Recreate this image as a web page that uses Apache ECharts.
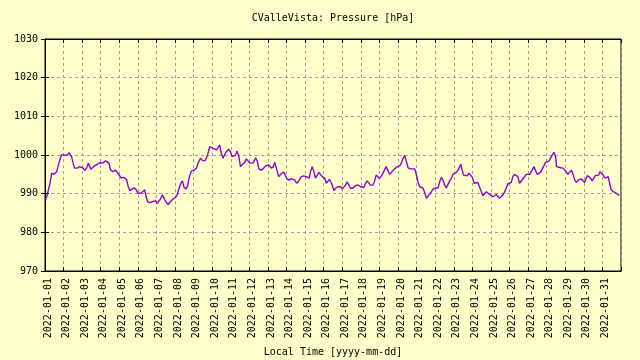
<!DOCTYPE html>
<html>
<head>
<meta charset="utf-8">
<script src="https://cdn.jsdelivr.net/npm/echarts@6/dist/echarts.min.js"></script>
<style>
html,body{margin:0;padding:0;background:#ffffcc;}
#chart{width:640px;height:360px;}
</style>
</head>
<body>
<div id="chart"></div>
<script>
// Time in days since 2022-01-01 00:00 (local time)
var timeDays = [
0.04,0.12,0.27,0.36,0.48,0.57,0.63,0.75,0.88,1.02,1.11,1.20,1.29,1.38,1.43,1.52,1.60,1.74,1.86,1.95,
2.06,2.13,2.24,2.33,2.40,2.47,2.56,2.67,2.81,2.96,3.10,3.17,3.26,3.35,3.44,3.53,3.65,3.80,3.85,3.98,
4.10,4.21,4.28,4.39,4.48,4.57,4.67,4.78,4.89,5.01,5.14,5.25,5.37,5.44,5.53,5.64,5.77,5.86,5.95,6.03,
6.13,6.20,6.32,6.39,6.50,6.63,6.75,6.89,7.02,7.11,7.22,7.31,7.40,7.47,7.58,7.67,7.75,7.88,8.02,8.15,
8.24,8.37,8.47,8.60,8.69,8.77,8.87,8.96,9.04,9.13,9.23,9.31,9.40,9.49,9.58,9.67,9.76,9.89,9.98,10.06,
10.16,10.25,10.33,10.42,10.52,10.62,10.71,10.84,10.92,11.02,11.19,11.34,11.43,11.51,11.64,11.77,11.88,11.97,12.05,12.18,
12.29,12.37,12.48,12.58,12.63,12.74,12.86,12.95,13.00,13.13,13.26,13.36,13.45,13.54,13.66,13.79,13.93,14.06,14.15,14.22,
14.29,14.38,14.47,14.56,14.65,14.74,14.83,14.92,15.05,15.14,15.24,15.31,15.42,15.55,15.64,15.76,15.91,16.00,16.08,16.17,
16.26,16.35,16.44,16.57,16.71,16.86,16.98,17.07,17.16,17.25,17.34,17.43,17.52,17.64,17.73,17.82,17.91,18.00,18.11,18.23,
18.36,18.45,18.54,18.65,18.74,18.86,18.97,19.09,19.18,19.28,19.36,19.45,19.54,19.67,19.77,19.90,19.99,20.08,20.17,20.26,
20.35,20.40,20.47,20.53,20.62,20.70,20.80,20.89,20.97,21.16,21.24,21.33,21.42,21.51,21.60,21.69,21.78,21.87,21.96,22.05,
22.14,22.23,22.32,22.37,22.45,22.53,22.62,22.73,22.82,22.91,23.00,23.09,23.17,23.30,23.39,23.48,23.57,23.66,23.75,23.84,
23.93,24.02,24.11,24.19,24.28,24.38,24.46,24.56,24.65,24.73,24.82,24.91,25.00,25.09,25.18,25.27,25.36,25.45,25.54,25.63,
25.72,25.81,25.90,25.99,26.08,26.13,26.22,26.31,26.40,26.49,26.58,26.67,26.76,26.85,26.94,27.03,27.12,27.21,27.30,27.39,
27.48,27.53,27.61,27.75,27.88,27.96,28.05,28.14,28.23,28.33,28.42,28.51,28.60,28.69,28.78,28.87,28.96,29.04,29.13,29.19,
29.27,29.36,29.45,29.54,29.62,29.71,29.80,29.86,29.94,30.04,30.13,30.22,30.31,30.40,30.47,30.58,30.67,30.76,30.85,30.91
];
var pressure = [
988.5,989.7,992.7,995.3,995.0,994.6,995.7,997.9,1000.0,1000.0,1000.1,999.9,1000.6,1000.8,999.6,997.7,996.6,996.6,997.0,997.3,
996.6,996.0,996.6,997.9,997.9,996.3,996.6,997.2,997.6,998.0,997.9,998.0,998.5,999.0,997.9,996.1,995.7,996.1,995.8,994.9,
994.0,994.2,994.6,993.7,991.8,990.8,991.1,991.5,991.1,990.1,990.1,990.5,991.0,989.2,987.9,987.7,987.9,987.7,988.2,987.5,
987.2,988.5,989.7,989.4,987.9,987.2,987.9,988.6,989.0,989.7,991.4,992.7,993.3,991.8,991.2,991.8,994.0,995.9,996.1,996.6,
997.9,999.2,998.6,998.5,999.2,1000.4,1002.2,1002.2,1001.7,1001.3,1001.3,1001.8,1002.6,1000.4,999.2,999.7,1000.9,1001.5,1000.9,999.6,
999.2,999.9,1001.0,1000.0,997.0,996.6,997.9,999.0,998.6,997.9,997.9,999.3,998.3,996.4,996.1,996.6,997.2,996.7,997.4,996.6,
997.0,998.1,996.1,994.4,994.5,995.3,995.5,995.3,994.0,993.5,993.9,994.4,993.5,992.7,993.3,994.4,994.6,994.4,994.7,994.0,
995.7,997.0,995.7,994.0,994.4,995.5,995.3,994.4,994.0,992.7,993.1,993.7,992.7,990.8,991.4,991.8,991.8,991.2,990.9,992.2,
993.1,992.2,991.4,991.4,992.1,992.2,991.8,992.1,991.6,992.7,993.3,993.0,992.2,992.2,993.1,994.8,994.6,994.0,994.6,995.7,
997.0,996.1,995.0,995.5,996.1,996.6,997.0,997.2,997.9,999.2,999.9,998.3,996.7,996.4,996.7,996.4,994.8,992.9,991.8,992.0,
991.4,991.8,989.7,988.8,989.4,989.8,990.5,991.2,991.6,991.6,993.1,994.2,993.5,992.2,991.5,992.4,993.3,994.0,995.0,995.3,
995.5,996.1,997.0,997.6,996.1,994.8,994.4,994.6,995.3,994.8,994.2,992.7,992.7,992.9,992.5,990.5,989.5,989.6,990.5,990.5,
989.8,989.6,989.2,989.5,989.8,990.1,988.8,988.6,989.7,990.4,991.4,992.5,992.4,992.9,994.4,995.0,995.3,994.4,992.7,992.4,
993.8,994.4,995.0,995.3,995.0,994.8,996.1,997.0,996.7,995.0,994.8,995.5,996.4,997.2,998.1,998.2,998.4,999.2,1000.0,1000.7,
999.6,997.0,996.8,996.7,996.6,996.4,995.7,995.0,995.3,996.1,995.0,993.5,992.9,993.5,994.0,993.8,994.0,992.9,993.3,994.7,
994.4,994.0,993.3,993.5,994.7,994.4,994.8,995.7,995.3,994.8,994.0,994.2,994.4,994.0,991.0,990.5,990.5,990.1,989.8,989.5
];
var dateLabels = [
'2022-01-01','2022-01-02','2022-01-03','2022-01-04','2022-01-05','2022-01-06','2022-01-07','2022-01-08',
'2022-01-09','2022-01-10','2022-01-11','2022-01-12','2022-01-13','2022-01-14','2022-01-15','2022-01-16',
'2022-01-17','2022-01-18','2022-01-19','2022-01-20','2022-01-21','2022-01-22','2022-01-23','2022-01-24',
'2022-01-25','2022-01-26','2022-01-27','2022-01-28','2022-01-29','2022-01-30','2022-01-31'
];
var titleText = 'CValleVista: Pressure [hPa]';
var xAxisTitle = 'Local Time [yyyy-mm-dd]';

var seriesData = timeDays.map(function (t, i) { return [t, pressure[i]]; });
var FONT = '"DejaVu Sans Mono", "Liberation Mono", monospace';
var gridLine = { show: true, lineStyle: { color: '#a0a0a0', type: [3, 3], width: 1 } };

var chart = echarts.init(document.getElementById('chart'), null, { renderer: 'canvas' });
chart.setOption({
  backgroundColor: '#ffffcc',
  animation: false,
  title: {
    text: titleText, left: 333, top: 13, textAlign: 'center', padding: 0,
    textStyle: { fontFamily: FONT, fontSize: 10, fontWeight: 'normal', color: '#000' }
  },
  grid: {
    left: 45, right: 19, top: 39, bottom: 89, containLabel: false, outerBoundsMode: 'none',
    show: true, borderColor: '#000', borderWidth: 1, backgroundColor: 'transparent'
  },
  xAxis: [{
    type: 'value', min: 0, max: 31, interval: 1, position: 'bottom',
    name: xAxisTitle, nameLocation: 'middle', nameGap: 76,
    nameTextStyle: { fontFamily: FONT, fontSize: 10, color: '#000' },
    axisLine: { show: true, lineStyle: { color: '#000' } },
    axisTick: { show: true, inside: true, length: 4, lineStyle: { color: '#000' } },
    axisLabel: {
      rotate: 90, margin: 7, fontFamily: FONT, fontSize: 10, color: '#000',
      verticalAlign: 'top', lineHeight: 6,
      formatter: function (v) { return dateLabels[Math.round(v)] || ''; }
    },
    splitLine: gridLine
  }, {
    type: 'value', min: 0, max: 31, interval: 1, position: 'top',
    axisLine: { show: true, lineStyle: { color: '#000' } },
    axisTick: { show: true, inside: true, length: 4, lineStyle: { color: '#000' } },
    axisLabel: { show: false }, splitLine: { show: false }
  }],
  yAxis: [{
    type: 'value', min: 970, max: 1030, interval: 10, position: 'left',
    axisLine: { show: true, lineStyle: { color: '#000' } },
    axisTick: { show: true, inside: true, length: 4, lineStyle: { color: '#000' } },
    axisLabel: { margin: 7, fontFamily: FONT, fontSize: 10, color: '#000',
      formatter: function (v) { return String(v); } },
    splitLine: gridLine
  }, {
    type: 'value', min: 970, max: 1030, interval: 10, position: 'right',
    axisLine: { show: true, lineStyle: { color: '#000' } },
    axisTick: { show: true, inside: true, length: 4, lineStyle: { color: '#000' } },
    axisLabel: { show: false }, splitLine: { show: false }
  }],
  series: [{
    type: 'line', data: seriesData, xAxisIndex: 0, yAxisIndex: 0,
    showSymbol: false, symbol: 'none',
    lineStyle: { color: '#9400d3', width: 1.4 }, itemStyle: { color: '#9400d3' }
  }]
});
</script>
</body>
</html>
